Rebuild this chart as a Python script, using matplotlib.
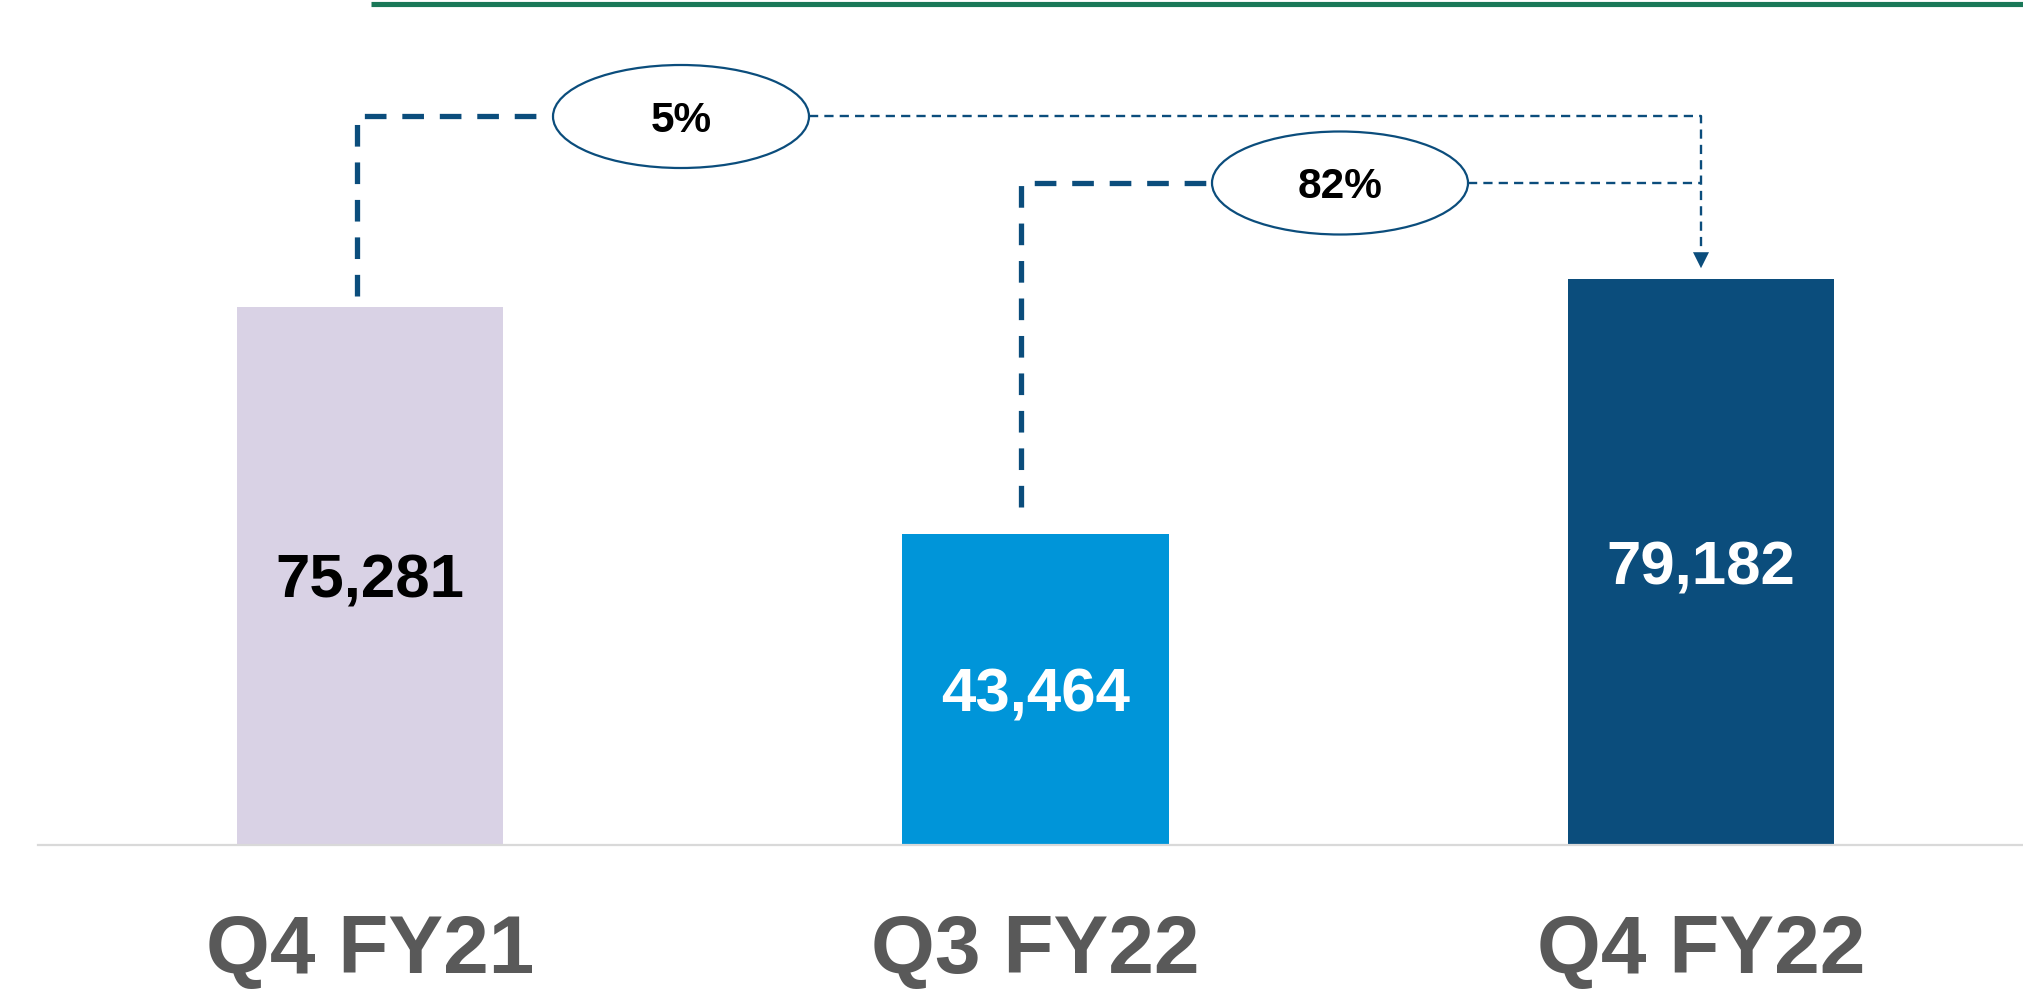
import matplotlib
matplotlib.use("Agg")
import matplotlib.pyplot as plt
from matplotlib.patches import Ellipse
from matplotlib.lines import Line2D

plt.rcParams['font.family'] = ['Liberation Sans', 'DejaVu Sans']

# ---- data ----
categories = ["Q4 FY21", "Q3 FY22", "Q4 FY22"]
values = [75281, 43464, 79182]
value_labels = ["75,281", "43,464", "79,182"]
growth_labels = ["5%", "82%"]          # Q4 FY21 -> Q4 FY22, Q3 FY22 -> Q4 FY22

bar_colors = ["#D9D2E5", "#0095D9", "#0B4D7C"]
label_colors = ["#000000", "#FFFFFF", "#FFFFFF"]
line_color = "#0B4D7C"

W, H, DPI = 2023, 994, 100
fig = plt.figure(figsize=(W / DPI, H / DPI), dpi=DPI)
ax = fig.add_axes([0, 0, 1, 1])

# scale: pixel layout
y0_px = 845.0          # baseline pixel from top
k = 139.95             # data units per pixel (vertical)
x0_px = 370.0          # first bar centre pixel
sx = 665.5             # pixels per category step
ax.set_ylim(-(H - y0_px) * k, y0_px * k)
ax.set_xlim(-x0_px / sx, (W - x0_px) / sx)
ax.axis("off")

def px_x(p):
    return (p - x0_px) / sx

def px_y(p):
    return (y0_px - p) * k

xs = list(range(len(categories)))
ax.bar(xs, values, width=0.40, color=bar_colors, zorder=2)

# baseline
ax.axhline(0, xmin=38 / W, xmax=1.0, color="#D9D9D9", lw=1.6, zorder=3)

# value labels (centred on bar)
for x, v, lab, c in zip(xs, values, value_labels, label_colors):
    ax.annotate(lab, (x, v / 2), xytext=(0, -15.8), textcoords="offset points",
                ha="center", va="baseline", fontsize=44.5, fontweight="bold",
                color=c, zorder=4)

# category labels
for x, cat in zip(xs, categories):
    ax.text(x, px_y(973), cat, ha="center", va="baseline", fontsize=59,
            fontweight="bold", color="#595959")

# ---- connectors ----
thick = dict(color=line_color, lw=3.8, dashes=(4.1, 3.0), solid_capstyle="butt",
             dash_capstyle="butt", zorder=3)
thin = dict(color=line_color, lw=1.7, dashes=(3.9, 2.6), dash_capstyle="butt", zorder=3)

gap = 11 * k
lvl1 = px_y(116.5)
lvl2 = px_y(183)
ell_w = 256 / sx
ell_h = 103 * k
e1x = px_x(681)
e2x = px_x(1340)
target = xs[2]
tip = values[2] + gap

# bracket 1 : Q4 FY21 -> Q4 FY22
vx1 = xs[0] + px_x(356.5) - px_x(370)
ax.plot([vx1, vx1, e1x - ell_w / 2 - 12 / sx], [values[0] + gap, lvl1, lvl1], **thick)
ax.plot([e1x + ell_w / 2, target, target], [lvl1, lvl1, tip + 16 * k], **thin)

# bracket 2 : Q3 FY22 -> Q4 FY22
vx2 = xs[1] + px_x(1021) - px_x(1036)
ax.plot([vx2, vx2, e2x - ell_w / 2], [px_y(507), lvl2, lvl2], **thick)
ax.plot([e2x + ell_w / 2, target], [lvl2, lvl2], **thin)

# arrow head
ax.annotate("", xy=(target, tip), xytext=(target, tip + 17 * k),
            arrowprops=dict(arrowstyle="-|>,head_length=0.8,head_width=0.4",
                            mutation_scale=14.4, color=line_color, lw=0,
                            shrinkA=0, shrinkB=0), zorder=4)

# ellipses with growth labels
for ex, ey, lab in [(e1x, lvl1, growth_labels[0]), (e2x, lvl2, growth_labels[1])]:
    ax.add_patch(Ellipse((ex, ey), ell_w, ell_h, facecolor="white",
                         edgecolor=line_color, lw=1.6, zorder=5))
    ax.annotate(lab, (ex, ey), xytext=(0, -11), textcoords="offset points",
                ha="center", va="baseline", fontsize=30.5, fontweight="bold",
                color="black", zorder=6)

# top green rule
fig.add_artist(Line2D([371 / W, 1.0], [1 - 3.5 / H, 1 - 3.5 / H],
                      color="#1A7858", lw=3.7, solid_capstyle="butt"))

fig.savefig("out.png", dpi=DPI)
